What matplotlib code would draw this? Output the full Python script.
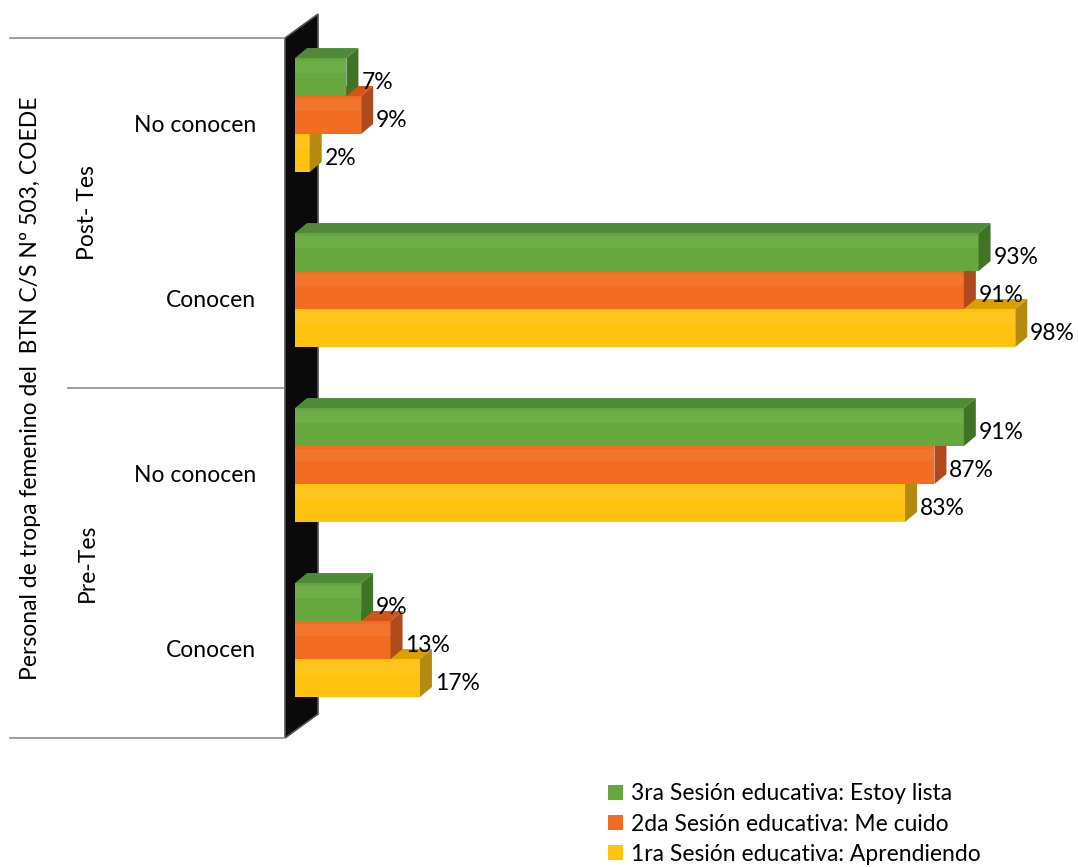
import matplotlib.pyplot as plt
from matplotlib.patches import Polygon, Patch

# -------------------------------
# Datos (de abajo hacia arriba)
# -------------------------------
categorias = ["Conocen", "No conocen", "Conocen", "No conocen"]
grupos = ["Pre-Tes", "Post- Tes"]
titulo_y = "Personal de tropa femenino del  BTN C/S Nº 503, COEDE"

series = ["3ra Sesión educativa: Estoy lista",
          "2da Sesión educativa: Me cuido",
          "1ra Sesión educativa: Aprendiendo"]
sesion3 = [9, 91, 93, 7]
sesion2 = [13, 87, 91, 9]
sesion1 = [17, 83, 98, 2]

# colores: frente, tapa, lado
COL = {
    "s3": ("#66a83d", "#4f8a36", "#3f7326"),
    "s2": ("#f26d21", "#d0561a", "#b04a1c"),
    "s1": ("#ffc20e", "#d9a000", "#b58a10"),
}

plt.rcParams['font.family'] = ['Lato', 'DejaVu Sans']
FS = 16.5

fig = plt.figure(figsize=(10.78, 8.67), dpi=100)
ax = fig.add_axes([280.3 / 1078, 1 - 738 / 867, 786.45 / 1078, 700 / 867])
ax.set_xlim(-2, 105)
ax.set_ylim(-0.5, 3.5)
ax.axis("off")

# profundidad 3D (en unidades de datos)
DX, DY = 1.63, 0.057
H = 0.217
OFF = 0.06

# pared negra
ax.add_patch(Polygon([(-1.36, -0.5), (-1.36, 3.5), (3.13, 3.637), (3.13, -0.363)],
                     closed=True, fc="#0a0a0a", ec="#555555", lw=1.2,
                     clip_on=False, zorder=1))


def barra3d(y0, val, cols):
    fr, tp, sd = cols
    y1 = y0 + H
    ax.add_patch(Polygon([(0, y0), (val, y0), (val, y1), (0, y1)],
                         fc=fr, ec="none", zorder=3, clip_on=False))
    # brillo suave del frente
    ax.add_patch(Polygon([(0, y1 - H * 0.4), (val, y1 - H * 0.4), (val, y1 - H * 0.08), (0, y1 - H * 0.08)],
                         fc="white", alpha=0.06, ec="none", zorder=3, clip_on=False))
    ax.add_patch(Polygon([(0, y1), (val, y1), (val + DX, y1 + DY), (DX, y1 + DY)],
                         fc=tp, ec="none", zorder=3, clip_on=False))
    ax.add_patch(Polygon([(val, y0), (val + DX, y0 + DY), (val + DX, y1 + DY), (val, y1)],
                         fc=sd, ec="none", zorder=3, clip_on=False))
    ax.text(val + DX + 0.4, y0 + H / 2 - 0.03, f"{val}%", fontsize=FS,
            ha="left", va="center", zorder=5)


for i in range(len(categorias)):
    c = i + OFF
    # orden de dibujo: abajo -> arriba
    for val, key, k in [(sesion1[i], "s1", -1), (sesion2[i], "s2", 0), (sesion3[i], "s3", 1)]:
        barra3d(c - H / 2 + k * H, val, COL[key])

    ax.text(-5.3, i, categorias[i], fontsize=FS, ha="right", va="center")

# etiquetas de grupo
for j, g in enumerate(grupos):
    ax.text(-28.2, 2 * j + 0.5, g, fontsize=FS, rotation=90, ha="center", va="center")
ax.text(-36.0, 1.5, titulo_y, fontsize=FS, rotation=90, ha="center", va="center")

# lineas separadoras
for y, x0 in [(3.5, -38.8), (1.5, -30.9), (-0.5, -38.8)]:
    ax.plot([x0, -1.6], [y, y], color="#8c8c8c", lw=1.2, clip_on=False)

handles = [Patch(fc=COL["s3"][0]), Patch(fc=COL["s2"][0]), Patch(fc=COL["s1"][0])]
fig.legend(handles, series, loc="upper left", bbox_to_anchor=(597 / 1078, 1 - 772 / 867),
           frameon=False, fontsize=FS, handlelength=0.65, handleheight=0.65,
           handletextpad=0.35, labelspacing=0.4, borderpad=0)

fig.savefig("out.png", dpi=100)
